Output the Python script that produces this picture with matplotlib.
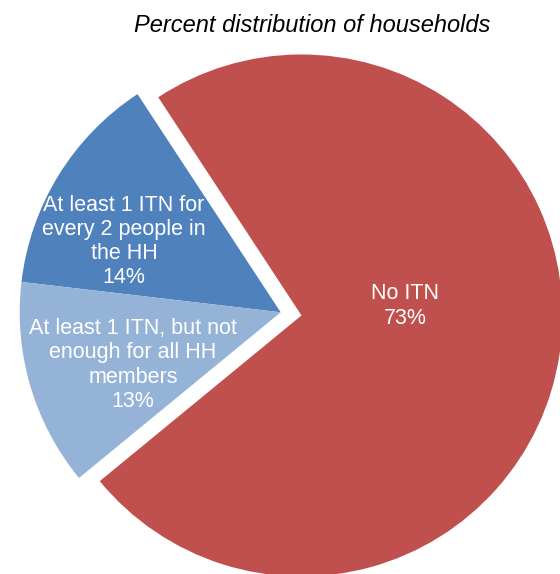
import matplotlib.pyplot as plt

# slice values (percent of households)
labels = ['No ITN',
          'At least 1 ITN for\nevery 2 people in\nthe HH',
          'At least 1 ITN, but not\nenough for all HH\nmembers']
values = [73.3, 13.9, 12.8]
shown_pct = ['73%', '14%', '13%']
colors = ['#C0504D', '#4F81BD', '#95B3D7']

plt.rcParams['font.family'] = ['Liberation Sans', 'DejaVu Sans']

fig = plt.figure(figsize=(5.6, 5.74), dpi=100)
ax = fig.add_axes([0, 0, 1, 1])

# work in pixel units, y pointing up
W, H = 560, 574
cx, cy = 280.7, H - 312.3
r = 261

# explode is in data units here, red slice pushed out ~21 px
wedges, _ = ax.pie(values, colors=colors, startangle=-140.6, counterclock=True,
                   explode=[21, 0, 0], radius=r, center=(cx, cy),
                   wedgeprops=dict(linewidth=0), frame=True)

ax.set_xlim(0, W)
ax.set_ylim(0, H)
ax.set_aspect('equal')
ax.axis('off')

# labels inside the slices
label_pos = [(405, 306), (124, 241.5), (133, 365)]
for lab, pct, (x, y) in zip(labels, shown_pct, label_pos):
    ax.text(x, H - y, lab + '\n' + pct, color='white', fontsize=15.5,
            ha='center', va='center', linespacing=1.2)

ax.text(312, H - 25, 'Percent distribution of households', fontsize=17,
        style='italic', ha='center', va='center', color='black')

fig.savefig('out.png', dpi=100)
